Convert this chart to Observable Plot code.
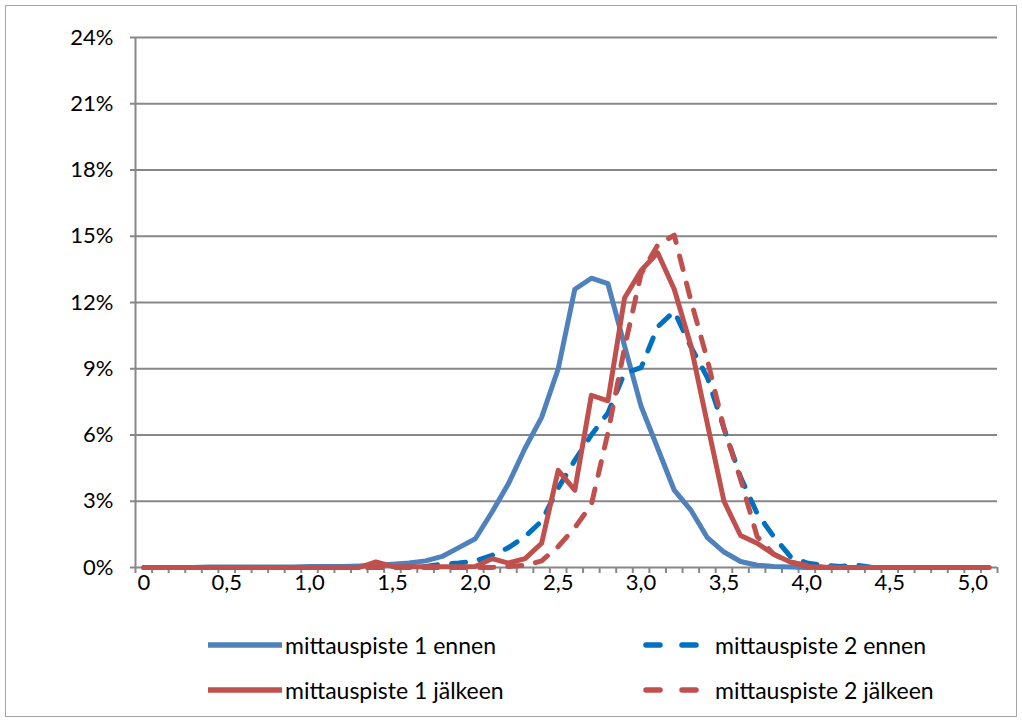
<!DOCTYPE html>
<html>
<head>
<meta charset="utf-8">
<script src="https://cdn.jsdelivr.net/npm/d3@7"></script>
<script src="https://cdn.jsdelivr.net/npm/@observablehq/plot@0.6"></script>
<style>
  body { margin: 0; background: #fff; }
  #chart { position: relative; width: 1022px; height: 722px; font-family: Lato, "Open Sans", sans-serif; color: #000; }
  #frame { position: absolute; left: 5px; top: 5px; width: 1012px; height: 712px; border: 1.5px solid #a6a6a6; box-sizing: border-box; pointer-events: none; }
  #plot { position: absolute; left: 0; top: 0; }
  .lg { position: absolute; display: flex; align-items: center; font-size: 23px; white-space: nowrap; }
  .lg svg { display: block; margin-right: 3px; }
</style>
</head>
<body>
<div id="chart">
  <div id="plot"></div>
  <div id="frame"></div>
</div>
<script>
// Share of measurements (%) per value class 0,0 ... 5,1
const categories = [
  0.0, 0.1, 0.2, 0.3, 0.4, 0.5, 0.6, 0.7, 0.8, 0.9,
  1.0, 1.1, 1.2, 1.3, 1.4, 1.5, 1.6, 1.7, 1.8, 1.9,
  2.0, 2.1, 2.2, 2.3, 2.4, 2.5, 2.6, 2.7, 2.8, 2.9,
  3.0, 3.1, 3.2, 3.3, 3.4, 3.5, 3.6, 3.7, 3.8, 3.9,
  4.0, 4.1, 4.2, 4.3, 4.4, 4.5, 4.6, 4.7, 4.8, 4.9,
  5.0, 5.1
];
const xTickLabels = [0, 0.5, 1.0, 1.5, 2.0, 2.5, 3.0, 3.5, 4.0, 4.5, 5.0];
const yTicks = [0, 3, 6, 9, 12, 15, 18, 21, 24];

const piste1Ennen = [
  0, 0, 0, 0, 0.02, 0.02, 0.02, 0.02, 0.02, 0.02,
  0.05, 0.05, 0.05, 0.07, 0.1, 0.15, 0.2, 0.3, 0.5, 0.9,
  1.3, 2.5, 3.8, 5.4, 6.8, 9.0, 12.6, 13.1, 12.85, 10.05,
  7.3, 5.4, 3.5, 2.6, 1.35, 0.7, 0.27, 0.1, 0.05, 0.02,
  0, 0, 0, 0, 0, 0, 0, 0, 0, 0,
  0, 0
];
const piste2Ennen = [
  0, 0, 0, 0, 0, 0, 0, 0, 0, 0,
  0, 0, 0, 0, 0, 0, 0.02, 0.05, 0.15, 0.2,
  0.3, 0.55, 0.9, 1.4, 2.1, 3.6, 4.85, 6.0, 7.0, 8.8,
  9.05, 10.9, 11.6, 10.0, 8.6, 6.3, 4.1, 2.45, 1.4, 0.5,
  0.2, 0.1, 0.05, 0.1, 0, 0, 0, 0, 0, 0,
  0, 0
];
const piste1Jalkeen = [
  0, 0, 0, 0, 0, 0, 0, 0, 0, 0,
  0, 0, 0, 0, 0.25, 0.05, 0.03, 0.03, 0.03, 0.03,
  0.05, 0.4, 0.2, 0.4, 1.1, 4.4, 3.5, 7.8, 7.55, 12.2,
  13.45, 14.25, 12.6, 10.05, 6.5, 3.0, 1.45, 1.1, 0.6, 0.25,
  0.05, 0, 0, 0, 0, 0, 0, 0, 0, 0,
  0, 0
];
const piste2Jalkeen = [
  0, 0, 0, 0, 0, 0, 0, 0, 0, 0,
  0, 0, 0, 0, 0, 0, 0, 0, 0, 0,
  0, 0, 0.05, 0.1, 0.3, 0.95, 1.8, 2.85, 6.1, 9.95,
  13.3, 14.6, 15.05, 12.1, 9.4, 6.3, 4.0, 1.4, 0.6, 0.25,
  0.1, 0.02, 0, 0, 0, 0, 0, 0, 0, 0,
  0, 0
];

const seriesNames = [
  "mittauspiste 1 ennen",
  "mittauspiste 2 ennen",
  "mittauspiste 1 jälkeen",
  "mittauspiste 2 jälkeen"
];
const seriesValues = [piste1Ennen, piste2Ennen, piste1Jalkeen, piste2Jalkeen];
const seriesColors = ["#4f81bd", "#0070c0", "#c0504d", "#c0504d"];
const seriesDashed = [false, true, false, true];

const DASH = "14,14";
const LINE_W = 5;
const GRID = "#878787";

const series = seriesNames.map((name, k) => ({
  name,
  color: seriesColors[k],
  dashed: seriesDashed[k],
  rows: seriesValues[k].map((v, i) => ({ x: categories[i], y: v }))
}));

// category boundaries carry the x-axis tick marks; labels sit on category centres
const step = 0.1;
const boundaries = categories.map(c => c - step / 2).concat([categories[categories.length - 1] + step / 2]);
const fmtX = d => d === 0 ? "0" : d.toFixed(1).replace(".", ",");

const plot = Plot.plot({
  width: 1022,
  height: 615,
  marginLeft: 135,
  marginRight: 25,
  marginTop: 37,
  marginBottom: 48,
  style: { fontFamily: "Lato, 'Open Sans', sans-serif", fontSize: "22px", color: "#000", background: "transparent", overflow: "visible" },
  x: { domain: [boundaries[0], boundaries[boundaries.length - 1]] },
  y: { domain: [0, 24] },
  marks: [
    Plot.gridY(yTicks, { stroke: GRID, strokeOpacity: 1, strokeWidth: 2 }),
    Plot.ruleX([boundaries[0]], { stroke: GRID, strokeWidth: 2 }),
    Plot.axisY({ ticks: yTicks, tickFormat: d => d + "%", tickSize: 5, tickPadding: 17, stroke: GRID, strokeWidth: 2, fill: "#000", fontSize: 22, label: null }),
    Plot.axisX({ ticks: boundaries, tickFormat: () => "", tickSize: 6, stroke: GRID, strokeWidth: 2, label: null }),
    Plot.axisX({ ticks: xTickLabels, tickFormat: fmtX, tickSize: 0, tickPadding: 7, fill: "#000", fontSize: 22, label: null }),
    ...series.map(s => Plot.line(s.rows, {
      x: "x", y: "y",
      stroke: s.color,
      strokeWidth: LINE_W,
      strokeLinejoin: "round",
      strokeLinecap: s.dashed ? "round" : "butt",
      strokeDasharray: s.dashed ? DASH : null
    }))
  ]
});
document.getElementById("plot").appendChild(plot);

// legend: two rows, two columns
const chart = document.getElementById("chart");
const legendPos = [
  { left: 208, top: 645 },
  { left: 640, top: 645 },
  { left: 208, top: 690 },
  { left: 640, top: 690 }
];
series.forEach((s, k) => {
  const item = document.createElement("div");
  item.className = "lg";
  item.style.left = legendPos[k].left + "px";
  item.style.top = (legendPos[k].top - 15) + "px";
  const w = s.dashed ? 72 : 74;
  const svg = d3.create("svg").attr("width", w).attr("height", 30);
  svg.append("line")
    .attr("x1", s.dashed ? 6 : 0).attr("x2", s.dashed ? w - 6 : w)
    .attr("y1", 15).attr("y2", 15)
    .attr("stroke", s.color)
    .attr("stroke-width", 5.5)
    .attr("stroke-linecap", "round")
    .attr("stroke-dasharray", s.dashed ? "14,22" : null);
  item.appendChild(svg.node());
  const label = document.createElement("span");
  label.textContent = s.name;
  item.appendChild(label);
  chart.appendChild(item);
});
</script>
</body>
</html>
